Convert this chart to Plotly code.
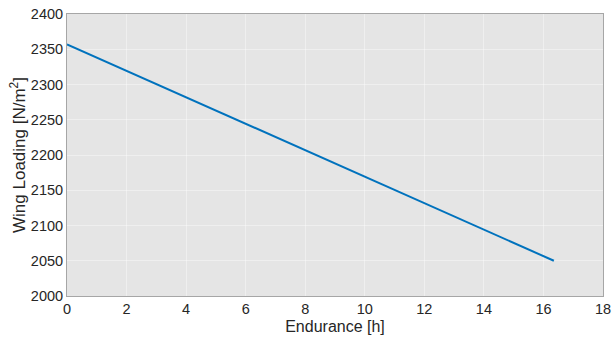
import plotly.graph_objects as go

# Endurance vs. wing loading
endurance_h = [0, 4, 8, 12, 16.35]
wing_loading = [2357, 2282, 2207, 2132, 2050]

x_ticks = [0, 2, 4, 6, 8, 10, 12, 14, 16, 18]
y_ticks = [2000, 2050, 2100, 2150, 2200, 2250, 2300, 2350, 2400]

fig = go.Figure()
fig.add_trace(go.Scatter(
    x=endurance_h, y=wing_loading, mode="lines",
    line=dict(color="#0072BD", width=2),
    showlegend=False,
))

axis_common = dict(
    showline=True, linecolor="#a6a6a6", linewidth=1, mirror=True,
    showgrid=True, gridcolor="rgba(255,255,255,0.4)", gridwidth=1,
    zeroline=False, ticks="", tickfont=dict(size=14.5, color="#262626"),
    automargin=False,
)

fig.update_xaxes(range=[0, 18], tickvals=x_ticks, title_text="Endurance [h]",
                 title_font=dict(size=16, color="#262626"),
                 title_standoff=4, **axis_common)
fig.update_yaxes(range=[2000, 2400], tickvals=y_ticks,
                 title_text="Wing Loading [N/m<sup>2</sup>]",
                 title_font=dict(size=17, color="#262626"),
                 title_standoff=0, **axis_common)

fig.update_layout(
    width=612, height=340,
    margin=dict(l=67, r=9, t=14, b=44),
    plot_bgcolor="#e5e5e5", paper_bgcolor="white",
    font=dict(family="Liberation Sans, Arial, sans-serif", color="#262626"),
)

fig.write_html("out.html")
